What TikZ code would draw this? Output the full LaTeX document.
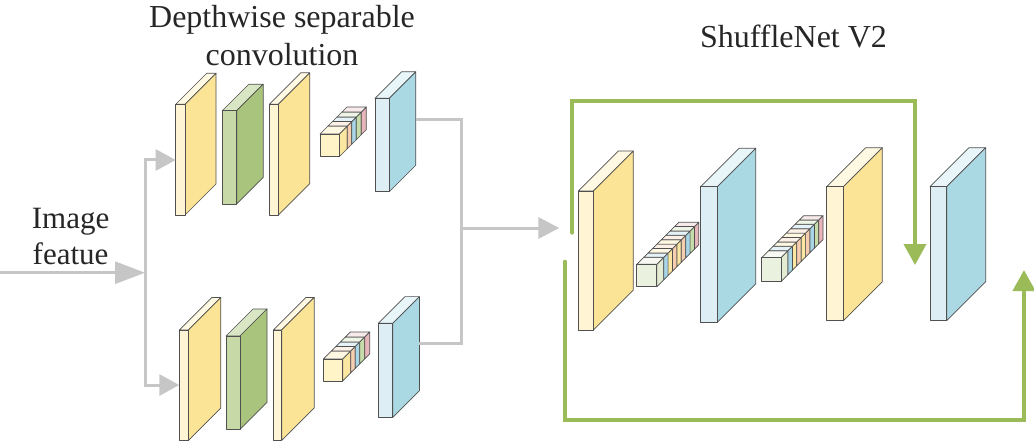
\documentclass[tikz,border=0pt]{standalone}
\usepackage{fontspec}
\setmainfont{Liberation Serif}
\usetikzlibrary{arrows.meta}
\definecolor{edgec}{HTML}{505050}
\definecolor{yfront}{HTML}{FFF4D4}
\definecolor{yside}{HTML}{FCE497}
\definecolor{ytop}{HTML}{FFF9E4}
\definecolor{gfront}{HTML}{C7D9A6}
\definecolor{gside}{HTML}{A8C47D}
\definecolor{gtop}{HTML}{D9E6C4}
\definecolor{bfront}{HTML}{DDEEF5}
\definecolor{bside}{HTML}{AAD8E3}
\definecolor{btop}{HTML}{E8F5F9}
\definecolor{cyel}{HTML}{FBE7A1}
\definecolor{corg}{HTML}{F6CDAF}
\definecolor{cblu}{HTML}{A9D6E6}
\definecolor{cgrn}{HTML}{C6DDAA}
\definecolor{cpnk}{HTML}{E8B6BA}
\definecolor{cpale}{HTML}{E3ECD2}
\definecolor{cubey}{HTML}{FFF4C8}
\definecolor{cubeg}{HTML}{EBF1DF}
\definecolor{grayc}{HTML}{C6C6C6}
\definecolor{greenc}{HTML}{9BBB59}
\tikzset{
  edge/.style={draw=edgec, line width=0.7pt, line join=round},
  grayline/.style={draw=grayc, line width=3pt},
  greenline/.style={draw=greenc, line width=4pt, line cap=round},
  lbl/.style={inner sep=0pt, align=center, text=black!85}
}
% x0 y0 x1 y1 depth front side top
\newcommand\slabbox[8]{%
  \filldraw[edge, fill=#8] (#1,#2) -- (#1+#5,#2-#5) -- (#3+#5,#2-#5) -- (#3,#2) -- cycle;
  \filldraw[edge, fill=#7] (#3,#2) -- (#3+#5,#2-#5) -- (#3+#5,#4-#5) -- (#3,#4) -- cycle;
  \filldraw[edge, fill=#6] (#1,#2) rectangle (#3,#4);
}
% x0 y0 w h frontcolour cells(start/end/colour)
\newcommand\cubestack[6]{%
  \foreach \pa/\pb/\pcol in {#6} {
    \filldraw[edge, fill=\pcol] (#1+#3+\pa,#2-\pa) -- (#1+#3+\pb,#2-\pb) -- (#1+#3+\pb,#2+#4-\pb) -- (#1+#3+\pa,#2+#4-\pa) -- cycle;
    \filldraw[edge, fill=\pcol!30!white] (#1+\pa,#2-\pa) -- (#1+\pb,#2-\pb) -- (#1+#3+\pb,#2-\pb) -- (#1+#3+\pa,#2-\pa) -- cycle;
  }
  \filldraw[edge, fill=#5] (#1,#2) rectangle (#1+#3,#2+#4);
}
\begin{document}
\begin{tikzpicture}[x=1pt, y=-1pt]
\useasboundingbox (0,0) rectangle (1034,441);

% labels
\node[lbl, anchor=north, font=\fontsize{32}{38}\selectfont] (title) at (282,5.4) {Depthwise separable\\convolution};
\node[lbl, anchor=north, font=\fontsize{31}{36.7}\selectfont] (input) at (70.6,207.8) {Image\\featue};
\node[lbl, anchor=base, font=\fontsize{32}{38}\selectfont] (shuffle) at (793.5,48) {ShuffleNet V2};

% top branch
\slabbox{175.7}{104.3}{185}{215}{31}{yfront}{yside}{ytop}
\slabbox{222.3}{110.7}{236.7}{204}{26.5}{gfront}{gside}{gtop}
\slabbox{269.3}{104.3}{278.3}{215}{31.5}{yfront}{yside}{ytop}
\cubestack{320}{134}{19.3}{22.7}{cubey}{0/8/cyel, 8/12.5/corg, 12.5/17/cblu, 17/22/cgrn, 22/27/cpnk}
\slabbox{375}{98.3}{389.3}{191.7}{26.5}{bfront}{bside}{btop}

% bottom branch
\slabbox{179.3}{330}{188.3}{440.5}{32.5}{yfront}{yside}{ytop}
\slabbox{226}{336}{240}{429.3}{27}{gfront}{gside}{gtop}
\slabbox{273.3}{330}{281.7}{440.5}{32.5}{yfront}{yside}{ytop}
\cubestack{323.3}{359}{19.4}{22}{cubey}{0/8/cyel, 8/12.5/corg, 12.5/17/cblu, 17/22/cgrn, 22/27/cpnk}
\slabbox{378.3}{323.3}{392.7}{417.3}{26.7}{bfront}{bside}{btop}

% ShuffleNet V2 block
\slabbox{578.3}{191}{593.3}{330}{40}{yfront}{yside}{ytop}
\cubestack{636.7}{264.3}{20}{22.5}{cubeg}{0/7/cpale, 7/11.4/cblu, 11.4/15.8/cyel, 15.8/20.2/corg, 20.2/24.6/cyel, 24.6/29/corg, 29/33.4/cblu, 33.4/37.8/cgrn, 37.8/42/cpnk}
\slabbox{700.7}{186.7}{717.3}{322.3}{38.4}{bfront}{bside}{btop}
\cubestack{761.7}{257.7}{19.3}{24}{cubeg}{0/7/cpale, 7/11.4/cblu, 11.4/15.8/cyel, 15.8/20.2/corg, 20.2/24.6/cyel, 24.6/29/corg, 29/33.4/cblu, 33.4/37.8/cgrn, 37.8/42/cpnk}
\slabbox{826.7}{186.7}{843.3}{320.7}{39}{yfront}{yside}{ytop}
\slabbox{930}{186.7}{946.7}{320.7}{39}{bfront}{bside}{btop}

% connection points
\coordinate (inL) at (0,272.7);
\coordinate (split) at (145,272.7);
\coordinate (topin) at (175.7,160);
\coordinate (botin) at (179.3,385);
\coordinate (topout) at (415.7,120);
\coordinate (botout) at (419.3,343);
\coordinate (merge) at (461,228);
\coordinate (shin) at (559.3,228);
\coordinate (g1s) at (572.3,232.7);
\coordinate (g1c) at (915,100.7);
\coordinate (g1e) at (915,265);
\coordinate (g2s) at (565,261.7);
\coordinate (g2c) at (1024,420);
\coordinate (g2e) at (1024,270);

% gray connectors
\draw[grayline, -{Triangle[length=30pt,width=22pt]}] (inL) -- (split);
\draw[grayline, -{Triangle[length=20pt,width=21pt]}] (split) |- (topin);
\draw[grayline, -{Triangle[length=20pt,width=21pt]}] (split) |- (botin);
\draw[grayline] (topout) -| (merge) |- (botout);
\draw[grayline, -{Triangle[length=21pt,width=21pt]}] (merge) -- (shin);

% green shortcut connectors
\draw[greenline, -{Triangle[length=21pt,width=22pt]}] (g1s) |- (g1c) -- (g1e);
\draw[greenline, -{Triangle[length=21pt,width=22pt]}] (g2s) |- (g2c) -- (g2e);
\end{tikzpicture}
\end{document}
